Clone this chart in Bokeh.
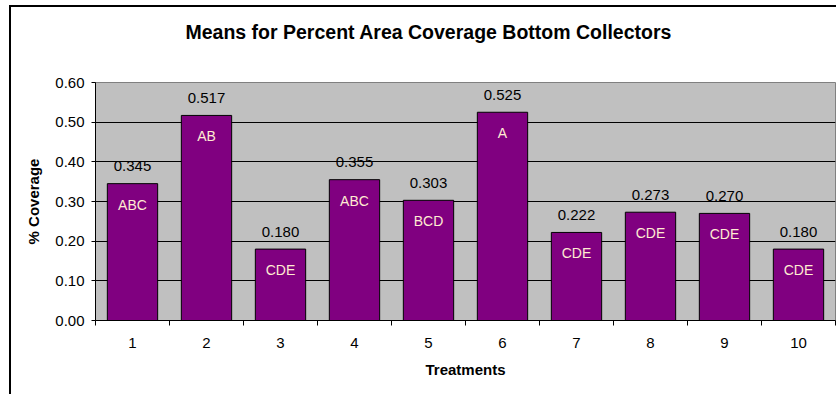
from bokeh.plotting import figure
from bokeh.models import (ColumnDataSource, LabelSet, FixedTicker, Range1d,
                          NumeralTickFormatter, Title)
from bokeh.core.properties import value
from bokeh.embed import file_html
from bokeh.resources import INLINE

# Treatment means and their significance-group letters
treatments = [1, 2, 3, 4, 5, 6, 7, 8, 9, 10]
means = [0.345, 0.517, 0.180, 0.355, 0.303, 0.525, 0.222, 0.273, 0.270, 0.180]
groups = ["ABC", "AB", "CDE", "ABC", "BCD", "A", "CDE", "CDE", "CDE", "CDE"]
y_ticks = [0.0, 0.1, 0.2, 0.3, 0.4, 0.5, 0.6]

FONT = "Liberation Sans"

src = ColumnDataSource(dict(
    x=treatments,
    top=means,
    value_text=[f"{m:.3f}" for m in means],
    group=groups,
))

p = figure(width=827, height=389, output_backend="svg", toolbar_location=None,
           title=None,
           x_range=Range1d(0.5, 10.5), y_range=Range1d(0, 0.6),
           min_border_left=84, min_border_right=3, min_border_top=75,
           min_border_bottom=76, margin=(5, 0, 0, 9),
           styles={"border-top": "2px solid black", "border-left": "2px solid black"})

p.background_fill_color = "#C0C0C0"
p.border_fill_color = "white"
p.outline_line_color = "#808080"
p.outline_line_width = 1

# Chart title, with a blank spacer between it and the plot area
p.add_layout(Title(text=" ", text_font_size="1px", standoff=26), "above")
p.add_layout(Title(text="Means for Percent Area Coverage Bottom Collectors",
                   align="left", offset=90, standoff=21,
                   text_font=FONT, text_font_style="bold",
                   text_font_size="19.5px", text_color="black"), "above")

# Bars
p.vbar(x="x", top="top", width=0.68, source=src,
       fill_color="#800080", line_color="black", line_width=1)

# Value labels above bars
p.add_layout(LabelSet(x="x", y="top", text="value_text", source=src,
                      text_align="center", text_baseline="middle", y_offset=17.5,
                      text_font=value(FONT), text_font_size="15px", text_color="black"))
# Group letters inside bars
p.add_layout(LabelSet(x="x", y="top", text="group", source=src,
                      text_align="center", text_baseline="middle", y_offset=-21,
                      text_font=value(FONT), text_font_size="14px", text_color="#FFEBD2"))

# Grid
p.xgrid.visible = False
p.ygrid.ticker = FixedTicker(ticks=y_ticks[:-1])
p.ygrid.grid_line_color = "black"
p.ygrid.grid_line_width = 1

# Y axis
p.yaxis.ticker = FixedTicker(ticks=y_ticks)
p.yaxis.formatter = NumeralTickFormatter(format="0.00")
p.yaxis.axis_label = "% Coverage"
p.yaxis.axis_label_text_font = FONT
p.yaxis.axis_label_text_font_style = "bold"
p.yaxis.axis_label_text_font_size = "15px"
p.yaxis.axis_label_text_color = "black"
p.yaxis.axis_label_standoff = 10
p.yaxis.major_label_text_font = FONT
p.yaxis.major_label_text_font_size = "15px"
p.yaxis.major_label_text_color = "black"
p.yaxis.major_label_standoff = 7
p.yaxis.major_tick_out = 4
p.yaxis.major_tick_in = 0
p.yaxis.minor_tick_out = 0
p.yaxis.minor_tick_in = 0
p.yaxis.axis_line_color = "black"
p.yaxis.major_tick_line_color = "black"

# X axis: labels at treatment centres, tick marks between treatments
p.xaxis.ticker = FixedTicker(ticks=treatments,
                             minor_ticks=[t + 0.5 for t in [0] + treatments])
p.xaxis.major_tick_out = 0
p.xaxis.major_tick_in = 0
p.xaxis.minor_tick_out = 5
p.xaxis.minor_tick_in = 0
p.xaxis.minor_tick_line_color = "black"
p.xaxis.axis_line_color = "black"
p.xaxis.major_label_text_font = FONT
p.xaxis.major_label_text_font_size = "15px"
p.xaxis.major_label_text_color = "black"
p.xaxis.major_label_standoff = 12
p.xaxis.axis_label = "Treatments"
p.xaxis.axis_label_text_font = FONT
p.xaxis.axis_label_text_font_style = "bold"
p.xaxis.axis_label_text_font_size = "15px"
p.xaxis.axis_label_text_color = "black"
p.xaxis.axis_label_standoff = 10

open("out.html", "w").write(file_html(p, INLINE))
